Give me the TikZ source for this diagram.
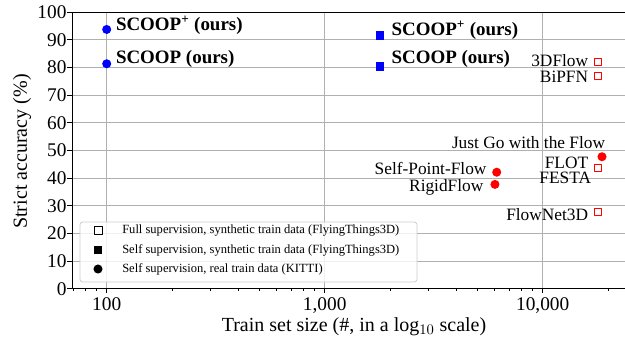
\documentclass[tikz,border=0pt]{standalone}
\usepackage{fontspec}
\setmainfont{Liberation Serif}
\usetikzlibrary{positioning}

\definecolor{gridgray}{RGB}{176,176,176}
\definecolor{legendgray}{RGB}{204,204,204}

\tikzset{
    gridline/.style={line width=0.6pt, color=gridgray},
    spine/.style={line width=0.6pt, black},
    fullsq/.style={rectangle, draw=#1, line width=0.7pt, fill=white, minimum size=5.6pt, inner sep=0pt},
    selfsq/.style={rectangle, fill=#1, minimum size=6.5pt, inner sep=0pt},
    realdot/.style={circle, fill=#1, minimum size=6.8pt, inner sep=0pt},
    ptlabel/.style={font=\fontsize{13}{13}\selectfont, inner sep=0pt},
    ourslabel/.style={font=\fontsize{14.2}{14.2}\selectfont\bfseries, inner sep=0pt},
    ticklabel/.style={font=\fontsize{14.5}{14.5}\selectfont, inner sep=0pt},
    axislabel/.style={font=\fontsize{15}{15}\selectfont, inner sep=0pt},
    legendtext/.style={font=\fontsize{9.4}{9.4}\selectfont, inner sep=0pt, anchor=west}
}

\begin{document}
\begin{tikzpicture}[line cap=butt,line join=round,x=0.75pt,y=-0.75pt]
    \useasboundingbox (0,0) rectangle (625,339);
    \clip (0,0) rectangle (625,339);

    % data frame: x = log10(train set size), y = strict accuracy
    \begin{scope}[xshift=-246.975pt, yshift=-216.525pt, x=163.5pt, y=2.075pt]
        \foreach \e in {2,3,4}
            \draw [gridline] (\e,0) -- (\e,100);
        \foreach \a in {10,20,...,90}
            \draw [gridline] (1.841,\a) -- (4.45,\a);

        \draw [spine] (1.841,100) -- (1.841,0) -- (4.45,0);
        \draw [spine] (1.841,100) -- (4.45,100);

        % ticks
        \foreach \a in {0,10,...,100} {
            \draw [spine] (1.841,\a) -- ++(-3.5pt,0);
            \node [ticklabel, anchor=east] (ytick\a) at ([xshift=-4pt]1.841,\a) {\a};
        }
        \foreach \e/\t in {2/100,3/{1,000},4/{10,000}} {
            \draw [spine] (\e,0) -- ++(0,-3.5pt);
            \node [ticklabel, anchor=north] (xtick\e) at ([yshift=-6.6pt]\e,0) {\t};
        }
        \foreach \m in {7,8,9}
            \draw [spine] ({1+log10(\m)},0) -- ++(0,-2pt);
        \foreach \e in {2,3}
            \foreach \m in {2,...,9}
                \draw [spine] ({\e+log10(\m)},0) -- ++(0,-2pt);
        \draw [spine] ({4+log10(2)},0) -- ++(0,-2pt);

        % points
        \node [realdot=blue] (scooppk) at (2,93.7) {};
        \node [realdot=blue] (scoopk) at (2,81.3) {};
        \node [selfsq=blue] (scooppf) at (3.254,91.4) {};
        \node [selfsq=blue] (scoopf) at (3.254,80.2) {};
        \node [fullsq=red] (threedflow) at (4.254,82.0) {};
        \node [fullsq=red] (bipfn) at (4.254,76.9) {};
        \node [fullsq=red] (flot) at (4.254,43.7) {};
        \node [fullsq=red] (flownet) at (4.254,27.7) {};
        \node [realdot=red] (justgo) at (4.272,47.7) {};
        \node [realdot=red] (selfpoint) at (3.789,42.1) {};
        \node [realdot=red] (rigid) at (3.781,37.7) {};
    \end{scope}

    % labels
    \node [ourslabel, right=3.2pt of scooppk, yshift=3.4pt] (lscooppk) {SCOOP\textsuperscript{+} (ours)};
    \node [ourslabel, right=3.2pt of scoopk, yshift=3.6pt] (lscoopk) {SCOOP (ours)};
    \node [ourslabel, right=5pt of scooppf, yshift=4.5pt] (lscooppf) {SCOOP\textsuperscript{+} (ours)};
    \node [ourslabel, right=5pt of scoopf, yshift=6pt] (lscoopf) {SCOOP (ours)};
    \node [ptlabel, left=4.1pt of threedflow, yshift=1.3pt] (lthreedflow) {3DFlow};
    \node [ptlabel, left=4.1pt of bipfn, yshift=-0.7pt] (lbipfn) {BiPFN};
    \node [ptlabel, above=3.1pt of justgo.north east, anchor=south east] (ljustgo) {Just Go with the Flow};
    \node [ptlabel, left=4.1pt of flot, yshift=3.7pt] (lflot) {FLOT};
    \node [ptlabel, left=1.9pt of flot, yshift=-7.9pt] (lfesta) {FESTA};
    \node [ptlabel, left=3.9pt of selfpoint, yshift=2.7pt] (lselfpoint) {Self-Point-Flow};
    \node [ptlabel, left=4.9pt of rigid, yshift=-2.5pt] (lrigid) {RigidFlow};
    \node [ptlabel, left=4.1pt of flownet, yshift=-2.2pt] (lflownet) {FlowNet3D};

    % axis titles
    \node [axislabel] (xtitle) at (354,327) {Train set size (\#, in a log$_{10}$ scale)};
    \node [axislabel, rotate=90] (ytitle) at (22,151.5) {Strict accuracy (\%)};

    % legend
    \draw [legendgray, line width=0.6pt, fill=white, fill opacity=0.8, rounded corners=2pt] (80,222) rectangle (417,282);
    \node [fullsq=black, minimum size=6pt] (legfull) at (98,230.7) {};
    \node [selfsq=black] (legselfsyn) at (98,250) {};
    \node [realdot=black] (legselfreal) at (98,269) {};
    \node [legendtext] (tfull) at (122,230.7) {Full supervision, synthetic train data (FlyingThings3D)};
    \node [legendtext] (tselfsyn) at (122,250) {Self supervision, synthetic train data (FlyingThings3D)};
    \node [legendtext] (tselfreal) at (122,269) {Self supervision, real train data (KITTI)};
\end{tikzpicture}
\end{document}
